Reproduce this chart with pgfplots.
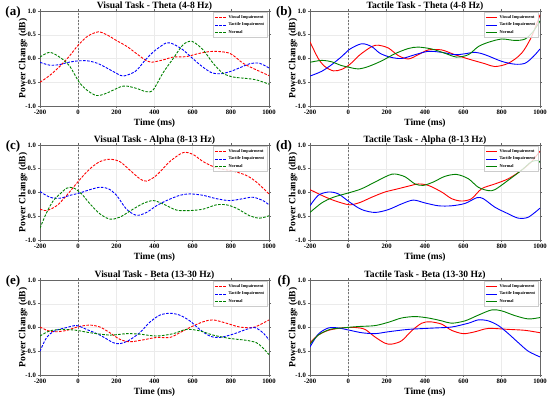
\documentclass[border=0pt]{standalone}
\usepackage{fontspec}
\setmainfont{Liberation Serif}
\usepackage{pgfplots}
\pgfplotsset{compat=1.18}
\definecolor{cR}{RGB}{255,0,0}
\definecolor{cB}{RGB}{0,0,255}
\definecolor{cG}{RGB}{0,128,0}
\newcommand{\legline}[2]{\pgfsetstrokecolor{#1}\pgfsetlinewidth{1pt}#2\pgfpathmoveto{\pgfpoint{0pt}{0pt}}\pgfpathlineto{\pgfpoint{11pt}{0pt}}\pgfusepath{stroke}}
\newcommand{\dashon}{\pgfsetdash{{2.6pt}{1.4pt}}{0pt}}
\newcommand{\dashoff}{\pgfsetdash{}{0pt}}
\pgfplotsset{
 every axis title shift=0pt,
 ldR/.style={legend image code/.code={\legline{cR}{\dashon}}},
 ldB/.style={legend image code/.code={\legline{cB}{\dashon}}},
 ldG/.style={legend image code/.code={\legline{cG}{\dashon}}},
 lsR/.style={legend image code/.code={\legline{cR}{\dashoff}}},
 lsB/.style={legend image code/.code={\legline{cB}{\dashoff}}},
 lsG/.style={legend image code/.code={\legline{cG}{\dashoff}}},
}
\pgfplotsset{
 panel/.style={
  scale only axis, width=229pt, height=95pt,
  anchor=south west,
  xmin=-200, xmax=1000, ymin=-1, ymax=1,
  xtick={-200,0,200,400,600,800,1000},
  xticklabels={-200,0,200,400,600,800,1000},
  ytick={-1,-0.5,0,0.5,1},
  yticklabels={-1.0,-0.5,0.0,0.5,1.0},
  tick label style={font=\fontsize{6.7}{7}\selectfont\bfseries},
  label style={font=\fontsize{9.5}{10}\selectfont\bfseries},
  title style={font=\fontsize{9.6}{10}\selectfont\bfseries, at={(0.5,1)}, anchor=base, yshift=2.3pt, inner sep=0pt},
  xlabel={Time (ms)}, ylabel={Power Change (dB)},
  xlabel style={yshift=3pt},
  ylabel style={yshift=-9pt},
  grid=major, major grid style={black!8, line width=0.4pt},
  axis line style={draw=black!60, line width=0.6pt},
  tick align=outside, major tick length=2pt,
  tick style={black!60, line width=0.5pt},
  xticklabel style={yshift=1.5pt},
  yticklabel style={xshift=1.5pt},
  legend cell align=left,
  legend style={font=\fontsize{4.3}{5}\selectfont\bfseries,
    at={(0.995,0.985)}, anchor=north east,
    draw=black!20, fill=white, fill opacity=0.8, text opacity=1, draw opacity=1,
    inner xsep=1.5pt, inner ysep=1pt, row sep=-1.2pt},
 },
 dsh/.style={line width=0.9pt, dash pattern=on 2.6pt off 1.4pt, smooth},
 sol/.style={line width=0.9pt, solid, smooth},
 sR/.style={color=cR, draw=cR},
 sB/.style={color=cB, draw=cB},
 sG/.style={color=cG, draw=cG},
 vline/.style={forget plot, black!55, line width=0.6pt, dash pattern=on 2pt off 1.5pt},
}
\newcommand{\plab}[2]{\node[font=\fontsize{13}{14}\selectfont\bfseries] at (#1) {#2};}
\begin{document}
\begin{tikzpicture}
\useasboundingbox (0,0) rectangle (550pt,398pt);
% (a)
\begin{axis}[panel, at={(40pt,292pt)}, title={Visual Task - Theta (4-8 Hz)}]
\addplot[vline] coordinates {(0,-1) (0,1)};
\addplot[sR,dsh,ldR] coordinates {(-200,-0.5)(-150,-0.36)(-100,-0.18)(-50,0.03)(0,0.28)(50,0.47)(105,0.56)(150,0.5)(200,0.38)(257,0.25)(300,0.12)(358,-0.05)(384,-0.08)(445,-0.03)(498,0.03)(567,0.04)(637,0.11)(707,0.15)(794,0.11)(864,-0.1)(934,-0.24)(1000,-0.36)};
\addlegendentry{Visual Impairment}
\addplot[sB,dsh,ldB] coordinates {(-200,-0.08)(-150,-0.14)(-100,-0.13)(-50,-0.08)(0,-0.05)(50,-0.05)(100,-0.1)(150,-0.2)(200,-0.31)(236,-0.37)(300,-0.27)(350,-0.04)(400,0.16)(463,0.33)(500,0.3)(550,0.18)(600,0.0)(650,-0.17)(700,-0.3)(750,-0.32)(800,-0.27)(850,-0.19)(900,-0.11)(950,-0.1)(1000,-0.2)};
\addlegendentry{Tactile Impairment}
\addplot[sG,dsh,ldG] coordinates {(-200,0.03)(-148,0.13)(-87,0.0)(-43,-0.17)(4,-0.49)(44,-0.66)(96,-0.78)(149,-0.73)(219,-0.6)(253,-0.58)(306,-0.63)(358,-0.7)(393,-0.66)(445,-0.3)(498,0.0)(550,0.29)(597,0.36)(655,0.18)(707,-0.1)(759,-0.31)(812,-0.39)(881,-0.42)(934,-0.45)(1000,-0.54)};
\addlegendentry{Normal}
\end{axis}
% (b)
\begin{axis}[panel, at={(310pt,292pt)}, width=230pt, title={Tactile Task - Theta (4-8 Hz)}]
\addplot[vline] coordinates {(0,-1) (0,1)};
\addplot[sR,sol,lsR] coordinates {(-200,0.35)(-157,0.0)(-122,-0.17)(-78,-0.26)(-35,-0.23)(9,-0.12)(61,0.08)(122,0.25)(156,0.28)(209,0.22)(261,0.06)(313,-0.01)(365,0.08)(417,0.18)(487,0.18)(556,0.08)(626,-0.01)(713,-0.11)(765,-0.17)(835,-0.1)(904,0.11)(956,0.46)(1000,0.92)};
\addlegendentry{Visual Impairment}
\addplot[sB,sol,lsB] coordinates {(-200,-0.37)(-139,-0.27)(-87,-0.13)(-35,0.04)(9,0.2)(70,0.31)(122,0.25)(165,0.11)(217,0.03)(278,0.0)(348,0.08)(417,0.15)(487,0.13)(556,0.08)(609,0.1)(661,0.13)(713,0.08)(800,-0.06)(869,-0.12)(922,-0.1)(965,0.04)(1000,0.2)};
\addlegendentry{Tactile Impairment}
\addplot[sG,sol,lsG] coordinates {(-200,-0.08)(-139,-0.04)(-87,-0.07)(-35,-0.15)(9,-0.19)(52,-0.22)(104,-0.17)(174,-0.05)(243,0.1)(313,0.21)(365,0.24)(435,0.2)(504,0.11)(565,0.03)(626,0.08)(678,0.25)(730,0.34)(800,0.41)(869,0.38)(922,0.41)(965,0.57)(1000,0.79)};
\addlegendentry{Normal}
\end{axis}
% (c)
\begin{axis}[panel, at={(40pt,158pt)}, title={Visual Task - Alpha (8-13 Hz)}]
\addplot[vline] coordinates {(0,-1) (0,1)};
\addplot[sR,dsh,ldR] coordinates {(-200,-0.35)(-165,-0.38)(-113,-0.28)(-60,-0.06)(4,0.25)(62,0.5)(114,0.65)(166,0.7)(218,0.65)(271,0.47)(323,0.29)(358,0.24)(410,0.36)(480,0.65)(550,0.84)(602,0.8)(655,0.65)(724,0.52)(812,0.45)(881,0.36)(934,0.22)(1000,-0.03)};
\addlegendentry{Visual Impairment}
\addplot[sB,dsh,ldB] coordinates {(-200,0.02)(-148,-0.1)(-95,-0.12)(-43,-0.06)(9,-0.01)(62,0.06)(114,0.11)(158,0.08)(201,-0.06)(253,-0.35)(306,-0.48)(358,-0.42)(410,-0.28)(463,-0.17)(532,-0.06)(585,-0.03)(655,-0.06)(724,-0.13)(794,-0.17)(864,-0.13)(916,-0.1)(968,-0.17)(1000,-0.26)};
\addlegendentry{Tactile Impairment}
\addplot[sG,dsh,ldG] coordinates {(-200,-0.75)(-165,-0.42)(-130,-0.17)(-95,-0.03)(-60,0.09)(-26,0.1)(18,-0.03)(62,-0.24)(114,-0.45)(166,-0.56)(218,-0.52)(288,-0.35)(341,-0.23)(393,-0.17)(445,-0.24)(515,-0.37)(585,-0.38)(655,-0.35)(724,-0.26)(777,-0.26)(829,-0.33)(899,-0.49)(951,-0.54)(1000,-0.49)};
\addlegendentry{Normal}
\end{axis}
% (d)
\begin{axis}[panel, at={(310pt,158pt)}, width=230pt, title={Tactile Task - Alpha (8-13 Hz)}]
\addplot[vline] coordinates {(0,-1) (0,1)};
\addplot[sR,sol,lsR] coordinates {(-200,0.06)(-139,-0.06)(-87,-0.15)(-35,-0.22)(9,-0.26)(61,-0.21)(122,-0.1)(191,0.01)(261,0.08)(330,0.15)(365,0.18)(417,0.15)(487,0.01)(539,-0.13)(591,-0.18)(643,-0.13)(696,0.08)(765,0.18)(835,0.29)(904,0.47)(956,0.65)(1000,0.87)};
\addlegendentry{Visual Impairment}
\addplot[sB,sol,lsB] coordinates {(-200,-0.28)(-157,-0.06)(-104,0.01)(-52,-0.03)(9,-0.21)(70,-0.36)(139,-0.42)(209,-0.36)(278,-0.24)(339,-0.16)(400,-0.22)(470,-0.28)(539,-0.28)(609,-0.23)(670,-0.11)(704,-0.13)(765,-0.31)(835,-0.45)(887,-0.54)(939,-0.52)(1000,-0.33)};
\addlegendentry{Tactile Impairment}
\addplot[sG,sol,lsG] coordinates {(-200,-0.42)(-139,-0.22)(-78,-0.1)(9,0.0)(70,0.08)(139,0.22)(209,0.36)(243,0.39)(296,0.33)(348,0.18)(391,0.15)(443,0.22)(504,0.34)(565,0.38)(626,0.29)(678,0.11)(730,0.04)(765,0.06)(835,0.26)(904,0.47)(956,0.65)(991,0.67)(1000,0.63)};
\addlegendentry{Normal}
\end{axis}
% (e)
\begin{axis}[panel, at={(40pt,23pt)}, title={Visual Task - Beta (13-30 Hz)}]
\addplot[vline] coordinates {(0,-1) (0,1)};
\addplot[sR,dsh,ldR] coordinates {(-200,0.01)(-156,-0.07)(-113,-0.09)(-60,-0.06)(4,0.02)(62,0.05)(114,0.01)(166,-0.11)(219,-0.25)(271,-0.3)(341,-0.26)(410,-0.21)(480,-0.21)(532,-0.11)(585,0.0)(655,0.12)(707,0.16)(777,0.09)(846,0.01)(916,0.0)(968,0.09)(1000,0.16)};
\addlegendentry{Visual Impairment}
\addplot[sB,dsh,ldB] coordinates {(-200,-0.5)(-165,-0.21)(-122,-0.07)(-60,0.0)(-8,0.04)(44,-0.04)(114,-0.16)(184,-0.32)(219,-0.34)(262,-0.28)(323,-0.11)(375,0.11)(428,0.26)(480,0.3)(532,0.26)(585,0.14)(637,-0.04)(690,-0.18)(742,-0.21)(812,-0.14)(881,-0.04)(925,0.0)(968,-0.11)(1000,-0.26)};
\addlegendentry{Tactile Impairment}
\addplot[sG,dsh,ldG] coordinates {(-200,-0.18)(-148,-0.07)(-78,-0.04)(-8,-0.06)(62,-0.11)(166,-0.16)(253,-0.13)(323,-0.14)(410,-0.18)(498,-0.13)(567,-0.04)(637,-0.07)(707,-0.16)(794,-0.23)(881,-0.27)(934,-0.32)(968,-0.43)(1000,-0.57)};
\addlegendentry{Normal}
\end{axis}
% (f)
\begin{axis}[panel, at={(310pt,23pt)}, width=230pt, title={Tactile Task - Beta (13-30 Hz)}]
\addplot[vline] coordinates {(0,-1) (0,1)};
\addplot[sR,sol,lsR] coordinates {(-200,-0.32)(-157,-0.16)(-104,-0.06)(-35,-0.01)(35,0.0)(87,-0.04)(139,-0.2)(191,-0.33)(226,-0.35)(278,-0.28)(330,-0.07)(383,0.09)(426,0.12)(487,0.07)(539,-0.06)(600,-0.13)(661,-0.09)(730,-0.02)(835,-0.04)(922,-0.06)(1000,-0.11)};
\addlegendentry{Visual Impairment}
\addplot[sB,sol,lsB] coordinates {(-200,-0.41)(-157,-0.14)(-104,-0.01)(-52,-0.01)(9,-0.06)(70,-0.11)(139,-0.13)(209,-0.09)(313,-0.04)(452,-0.01)(539,0.01)(626,0.09)(678,0.16)(730,0.14)(783,0.04)(835,-0.13)(887,-0.32)(939,-0.5)(1000,-0.62)};
\addlegendentry{Tactile Impairment}
\addplot[sG,sol,lsG] coordinates {(-200,-0.35)(-157,-0.16)(-96,-0.04)(-35,-0.01)(52,0.02)(139,0.04)(209,0.11)(278,0.2)(348,0.23)(417,0.2)(487,0.14)(539,0.09)(609,0.14)(678,0.26)(748,0.37)(800,0.35)(869,0.25)(939,0.18)(1000,0.21)};
\addlegendentry{Normal}
\end{axis}
\plab{13pt,386pt}{(a)}
\plab{284pt,386pt}{(b)}
\plab{13pt,252pt}{(c)}
\plab{284pt,252pt}{(d)}
\plab{13pt,117pt}{(e)}
\plab{284pt,117pt}{(f)}
\end{tikzpicture}
\end{document}
